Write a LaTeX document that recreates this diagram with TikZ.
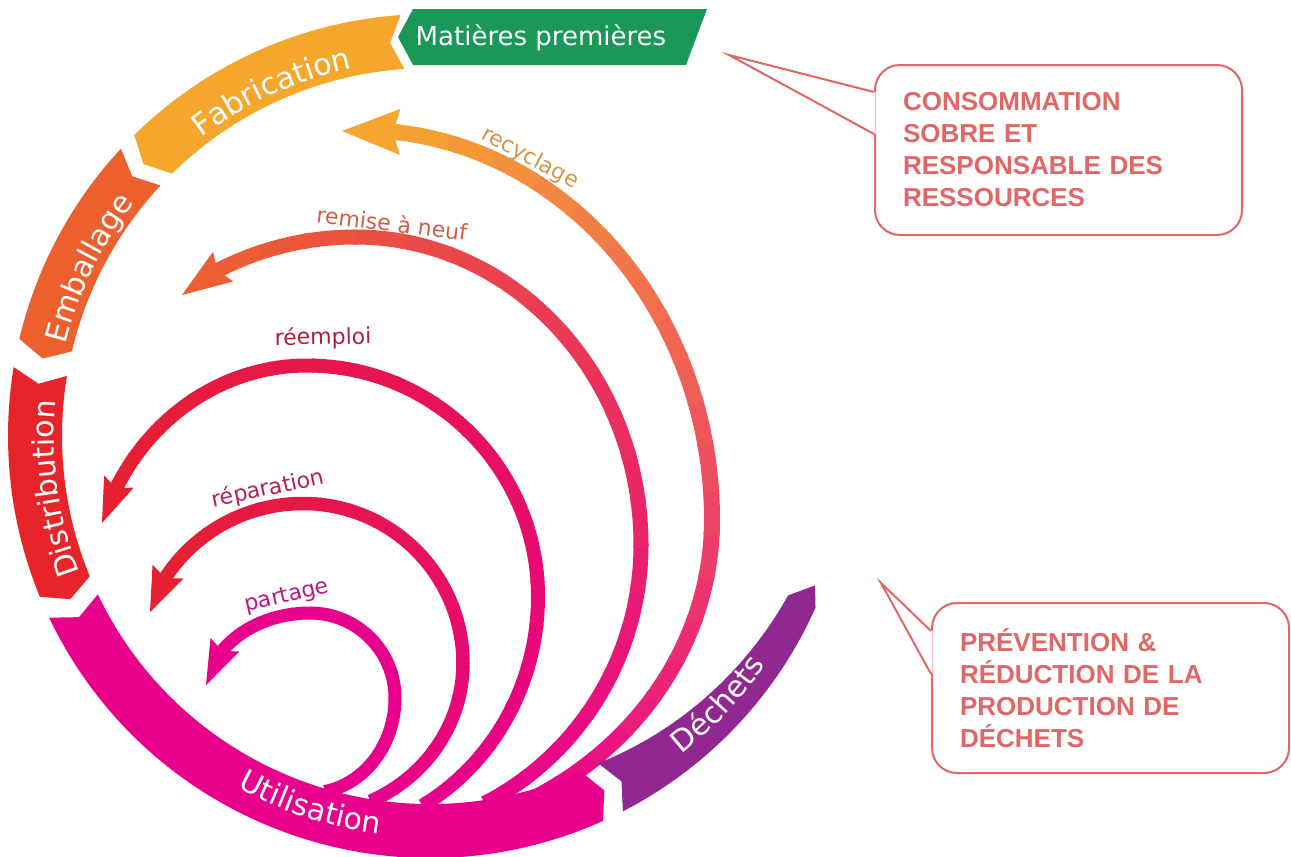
\documentclass[tikz,border=0pt]{standalone}
\usepackage{fontspec}
\usepackage{xcolor}
\usepackage{tikz}
\usetikzlibrary{calc,decorations.text}
\newfontfamily\stagefont{DejaVu Sans}
\newfontfamily\calloutfont{Liberation Sans}

\definecolor{rawgreen}{RGB}{26,152,88}
\definecolor{fabcol}{RGB}{245,167,45}
\definecolor{embcol}{RGB}{236,96,45}
\definecolor{distcol}{RGB}{230,36,42}
\definecolor{usecol}{RGB}{232,0,140}
\definecolor{wastecol}{RGB}{145,40,145}
\definecolor{calloutred}{RGB}{225,102,102}
\definecolor{recychead}{RGB}{245,165,48}
\definecolor{remisehead}{RGB}{236,95,50}
\definecolor{redhead}{RGB}{230,32,48}
\definecolor{recyccol}{RGB}{212,148,78}
\definecolor{remisecol}{RGB}{205,95,72}
\definecolor{reemploicol}{RGB}{172,32,58}
\definecolor{reparcol}{RGB}{180,32,85}
\definecolor{partagecol}{RGB}{185,25,125}

\tikzset{stagetext/.style={decorate, decoration={text along path, text align=center,
  text={|\stagefont\fontsize{30}{30}\selectfont\color{white}|#1}}},
looplabel/.style={font=\stagefont\fontsize{22}{22}\selectfont, inner sep=0pt},
calloutbox/.style={draw=calloutred, line width=2pt, rounded corners=25pt, fill=white,
  text=calloutred, align=left, inner xsep=28pt, inner ysep=0pt,
  font=\calloutfont\bfseries\fontsize{26}{32}\selectfont}}

% one piece of the ring: colour, start angle, end angle
\newcommand{\ringpart}[3]{%
\pgfmathsetmacro\tipangle{#3+2}\pgfmathsetmacro\notchangle{#2+1.8}%
\fill[#1] (#2:422) arc[start angle=#2, end angle=#3, radius=422pt] -- (\tipangle:395)
  -- (#3:368) arc[start angle=#3, end angle=#2, radius=368pt] -- (\notchangle:395) -- cycle;}
% shape of a return loop: centre, right x radius, lower y radius, upper y radius, left x radius, first angle, last angle
\newcommand{\setloop}[7]{\def\loopc{#1}\def\looprx{#2}\def\loopryl{#3}\def\loopryu{#4}\def\looplx{#5}\def\loopa{#6}\def\loopb{#7}}
% draw it, coloured by wedges: width, head colour, name
\newcommand{\fadeloop}[3]{%
\pgfmathsetmacro\loopmid{min(90,\loopb)}%
\pgfmathsetmacro\loopsx{\looprx*cos(\loopa)}\pgfmathsetmacro\loopsy{\loopryl*sin(\loopa)}%
\pgfmathsetmacro\loopex{(\loopb>90 ? \looplx : \looprx)*cos(\loopb)}\pgfmathsetmacro\loopey{\loopryu*sin(\loopb)}%
\pgfmathsetmacro\fadestep{(\loopb-(\loopa))/20}%
\foreach \k in {0,...,21}{%
  \pgfmathsetmacro\wedgea{\k==0 ? \loopa-40 : \loopa+(\k-1)*\fadestep-0.4}%
  \pgfmathsetmacro\wedgeb{\k==21 ? \loopb+40 : \loopa+\k*\fadestep+0.4}%
  \pgfmathtruncatemacro\fadepct{max(0,min(100,(\k-0.5)*5))}%
  \begin{scope}
  \clip (\loopc) -- ($(\loopc)+(\wedgea:900)$) -- ($(\loopc)+(\wedgeb:900)$) -- cycle;
  \draw[line width=#1, #2!\fadepct!usecol, shift={(\loopc)}] (\loopsx,\loopsy)
    arc[start angle=\loopa, end angle=0, x radius=\looprx, y radius=\loopryl]
    arc[start angle=0, end angle=\loopmid, x radius=\looprx, y radius=\loopryu]
    arc[start angle=\loopmid, end angle=\loopb, x radius=\looplx, y radius=\loopryu];
  \end{scope}}
\coordinate (#3End) at ($(\loopc)+(\loopex,\loopey)$);}
% head of a return arrow: colour, notch, tip, half width, inset
\newcommand{\loophead}[5]{%
\fill[#1] (#3) -- ($(#2)!-#5!(#3)!#4!90:(#3)$) -- (#2) -- ($(#2)!-#5!(#3)!#4!-90:(#3)$) -- cycle;}

\begin{document}
\begin{tikzpicture}[x=1pt, y=1pt]
\useasboundingbox (0,0) rectangle (1291,-857);

% return loops
\setloop{360,-520}{352}{320}{390}{352}{-60}{84.6}
\fadeloop{16pt}{recychead}{recyc}
\setloop{355,-545}{286}{290}{308}{303}{-63}{117}
\fadeloop{15pt}{remisehead}{remise}
\setloop{307,-596.5}{231}{241.6}{231}{216}{-60}{152}
\fadeloop{14pt}{redhead}{reemploi}
\setloop{303,-663.5}{160}{152}{160}{163}{-65}{147.7}
\fadeloop{13.5pt}{redhead}{repar}
\setloop{310,-698}{85}{95}{85}{105.6}{-80}{146.4}
\fadeloop{13pt}{usecol}{partage}

\coordinate (recycTip) at (342,-131);
\coordinate (remiseTip) at (182,-295);
\coordinate (reemploiTip) at (102,-523);
\coordinate (reparTip) at (150,-612);
\coordinate (partageTip) at (206,-685);
\loophead{recychead}{recycEnd}{recycTip}{23pt}{7pt}
\loophead{remisehead}{remiseEnd}{remiseTip}{18pt}{7pt}
\loophead{redhead}{reemploiEnd}{reemploiTip}{16pt}{7pt}
\loophead{redhead}{reparEnd}{reparTip}{17pt}{7pt}
\loophead{usecol}{partageEnd}{partageTip}{16pt}{7pt}

\node[looplabel, text=recyccol, rotate=-28] (recycLabel) at (530,-158) {recyclage};
\node[looplabel, text=remisecol, rotate=-7] (remiseLabel) at (392,-223) {remise à neuf};
\node[looplabel, text=reemploicol, rotate=1] (reemploiLabel) at (323,-338) {réemploi};
\node[looplabel, text=reparcol, rotate=12] (reparLabel) at (268,-489) {réparation};
\node[looplabel, text=partagecol, rotate=13] (partageLabel) at (287,-597) {partage};

% the ring of stages
\fill[rawgreen] (398,-37) -- (413,-9) -- (707,-9) -- (686,-65) -- (413,-65) -- cycle;
\node[font=\stagefont\fontsize{26}{26}\selectfont, text=white, anchor=base, inner sep=0pt] (rawLabel) at (541,-45) {Matières premières};
\begin{scope}[shift={(430,-436)}]
\ringpart{fabcol}{94}{134.5}
\ringpart{embcol}{137.1}{166.7}
\ringpart{distcol}{170.6}{202.4}
\ringpart{usecol}{205.5}{294.2}
\fill[wastecol] (297.2:422) arc[start angle=297.2, end angle=336, radius=422pt] -- (338.8:413) -- (336:392)
  -- plot[domain=336:297.2, samples=20] (\x:{368+24*(\x-297.2)/38.8}) -- (299:395) -- cycle;
\path[stagetext=Fabrication] (144.7:376) arc[start angle=144.7, end angle=84.7, radius=376pt];
\path[stagetext=Emballage] (183.8:376) arc[start angle=183.8, end angle=123.8, radius=376pt];
\path[stagetext=Distribution] (218:376) arc[start angle=218, end angle=158, radius=376pt];
\path[stagetext=Utilisation] (222:401) arc[start angle=222, end angle=282, radius=401pt];
\path[stagetext=Déchets] (292:406) arc[start angle=292, end angle=342, radius=406pt];
\end{scope}

% callouts
\node[calloutbox, minimum width=367pt, minimum height=170pt, text width=311pt] (consoBox) at (1058.5,-150) {CONSOMMATION\\SOBRE ET\\RESPONSABLE DES\\RESSOURCES};
\coordinate (consoTip) at (729,-55);
\fill[white] (consoTip) -- ($(consoBox.north west)+(1.5,-28)$) -- ($(consoBox.north west)+(1.5,-70)$) -- cycle;
\draw[calloutred, line width=2pt] ($(consoBox.north west)+(0,-28)$) -- (consoTip) -- ($(consoBox.north west)+(0,-70)$);

\node[calloutbox, minimum width=357pt, minimum height=170pt, text width=301pt] (preventBox) at (1110.5,-688) {PRÉVENTION \&\\RÉDUCTION DE LA\\PRODUCTION DE\\DÉCHETS};
\coordinate (preventTip) at (881,-583);
\fill[white] (preventTip) -- ($(preventBox.north west)+(1.5,-29)$) -- ($(preventBox.north west)+(1.5,-72)$) -- cycle;
\draw[calloutred, line width=2pt] ($(preventBox.north west)+(0,-29)$) -- (preventTip) -- ($(preventBox.north west)+(0,-72)$);
\end{tikzpicture}
\end{document}
